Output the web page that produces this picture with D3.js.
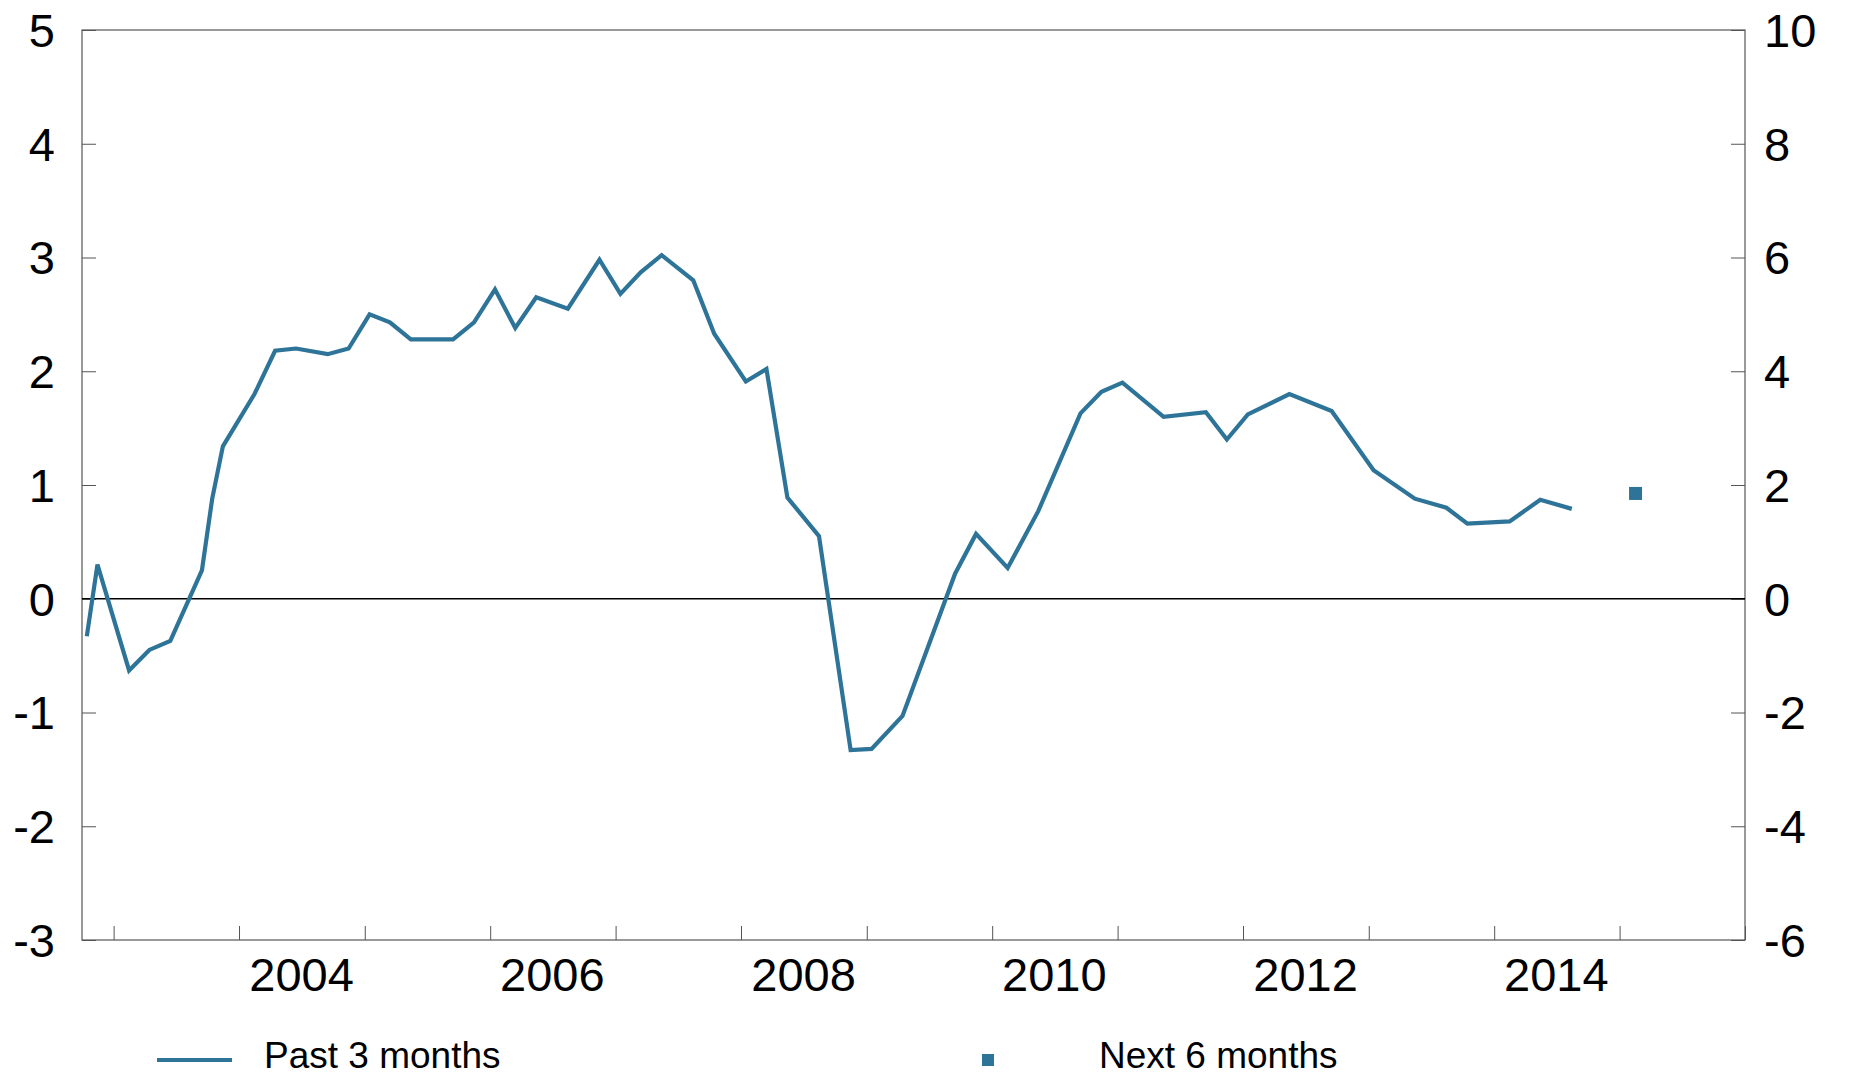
<!DOCTYPE html>
<html><head><meta charset="utf-8">
<script src="https://cdn.jsdelivr.net/npm/d3@7"></script>
<style>body{margin:0;background:#fff}</style>
</head><body>
<script>
// Past 3 months (left axis)
const dates = ["2002-10","2002-11","2003-02","2003-04","2003-06","2003-09","2003-10","2003-11",
  "2004-02","2004-04","2004-06","2004-09","2004-11","2005-01","2005-03","2005-05","2005-09","2005-11",
  "2006-01","2006-03","2006-05","2006-08","2006-11","2007-01","2007-03","2007-05","2007-08","2007-10",
  "2008-01","2008-03","2008-05","2008-08","2008-11","2009-01","2009-04","2009-09","2009-11",
  "2010-02","2010-05","2010-09","2010-11","2011-01","2011-05","2011-09","2011-11",
  "2012-01","2012-05","2012-09","2013-01","2013-05","2013-08","2013-10","2014-02","2014-05","2014-08"];
const past3 = [-0.33,0.3,-0.63,-0.45,-0.37,0.25,0.88,1.34,
  1.8,2.18,2.2,2.15,2.2,2.5,2.43,2.28,2.28,2.43,
  2.72,2.38,2.65,2.55,2.98,2.68,2.87,3.02,2.8,2.33,
  1.91,2.02,0.89,0.55,-1.33,-1.32,-1.03,0.22,0.57,
  0.27,0.77,1.63,1.82,1.9,1.6,1.64,1.4,
  1.62,1.8,1.65,1.13,0.88,0.8,0.66,0.68,0.87,0.79];
// Next 6 months
const nextDates = ["2015-02"];
const next6 = [0.93];
const leftTicks = [-3,-2,-1,0,1,2,3,4,5];
const rightTicks = [-6,-4,-2,0,2,4,6,8,10];
const yearLabels = [2004,2006,2008,2010,2012,2014];

const W = 1859, H = 1077;
const m = {left: 82, right: 1745, top: 30, bottom: 940};
const color = "#2e7499";
const font = "'Liberation Sans', Arial, sans-serif";
const parse = d3.timeParse("%Y-%m-%d");

const x = d3.scaleTime().domain([new Date(2002, 9, 1), new Date(2016, 0, 1)]).range([m.left, m.right]);
const y = d3.scaleLinear().domain([-3, 5]).range([m.bottom, m.top]);
const y2 = d3.scaleLinear().domain([-6, 10]).range([m.bottom, m.top]);

const svg = d3.select("body").append("svg").attr("width", W).attr("height", H)
  .style("font-family", font);

// frame
svg.append("rect").attr("x", m.left).attr("y", m.top)
  .attr("width", m.right - m.left).attr("height", m.bottom - m.top)
  .attr("fill", "none").attr("stroke", "#555").attr("stroke-width", 1.2);

// left axis
const gl = svg.append("g").attr("transform", `translate(${m.left},0)`)
  .call(d3.axisRight(y).tickValues(leftTicks).tickSize(14).tickFormat(""));
gl.select(".domain").remove();
gl.selectAll("line").attr("stroke", "#555");
svg.append("g").selectAll("text").data(leftTicks).join("text")
  .attr("x", 55).attr("y", d => y(d)).attr("dy", "0.36em")
  .attr("text-anchor", "end").attr("font-size", 47).text(d => d);

// right axis
const gr = svg.append("g").attr("transform", `translate(${m.right},0)`)
  .call(d3.axisLeft(y2).tickValues(rightTicks).tickSize(14).tickFormat(""));
gr.select(".domain").remove();
gr.selectAll("line").attr("stroke", "#555");
svg.append("g").selectAll("text").data(rightTicks).join("text")
  .attr("x", 1764).attr("y", d => y2(d)).attr("dy", "0.36em")
  .attr("text-anchor", "start").attr("font-size", 47).text(d => d);

// x axis
const gx = svg.append("g").attr("transform", `translate(0,${m.bottom})`)
  .call(d3.axisTop(x).ticks(d3.timeYear.every(1)).tickSize(14).tickFormat(""));
gx.select(".domain").remove();
gx.selectAll("line").attr("stroke", "#555");
svg.append("g").selectAll("text").data(yearLabels).join("text")
  .attr("x", d => x(new Date(d, 6, 1))).attr("y", 991)
  .attr("text-anchor", "middle").attr("font-size", 47).text(d => d);

// zero line
svg.append("line").attr("x1", m.left).attr("x2", m.right)
  .attr("y1", y(0)).attr("y2", y(0)).attr("stroke", "#000").attr("stroke-width", 1.5);

// line
const pts = dates.map((d, i) => ({date: parse(d + "-15"), v: past3[i]}));
svg.append("path").datum(pts)
  .attr("fill", "none").attr("stroke", color).attr("stroke-width", 4.2)
  .attr("d", d3.line().x(d => x(d.date)).y(d => y(d.v)));

// next 6 months marker
svg.append("g").selectAll("rect").data(nextDates.map((d, i) => ({date: parse(d + "-15"), v: next6[i]})))
  .join("rect").attr("x", d => x(d.date) - 6).attr("y", d => y(d.v) - 6)
  .attr("width", 13).attr("height", 13).attr("fill", color);

// legend
svg.append("line").attr("x1", 157).attr("x2", 232).attr("y1", 1060).attr("y2", 1060)
  .attr("stroke", color).attr("stroke-width", 4.2);
svg.append("text").attr("x", 264).attr("y", 1068).attr("font-size", 37).text("Past 3 months");
svg.append("rect").attr("x", 982).attr("y", 1054).attr("width", 12).attr("height", 12).attr("fill", color);
svg.append("text").attr("x", 1099).attr("y", 1068).attr("font-size", 37).text("Next 6 months");
</script>
</body></html>
